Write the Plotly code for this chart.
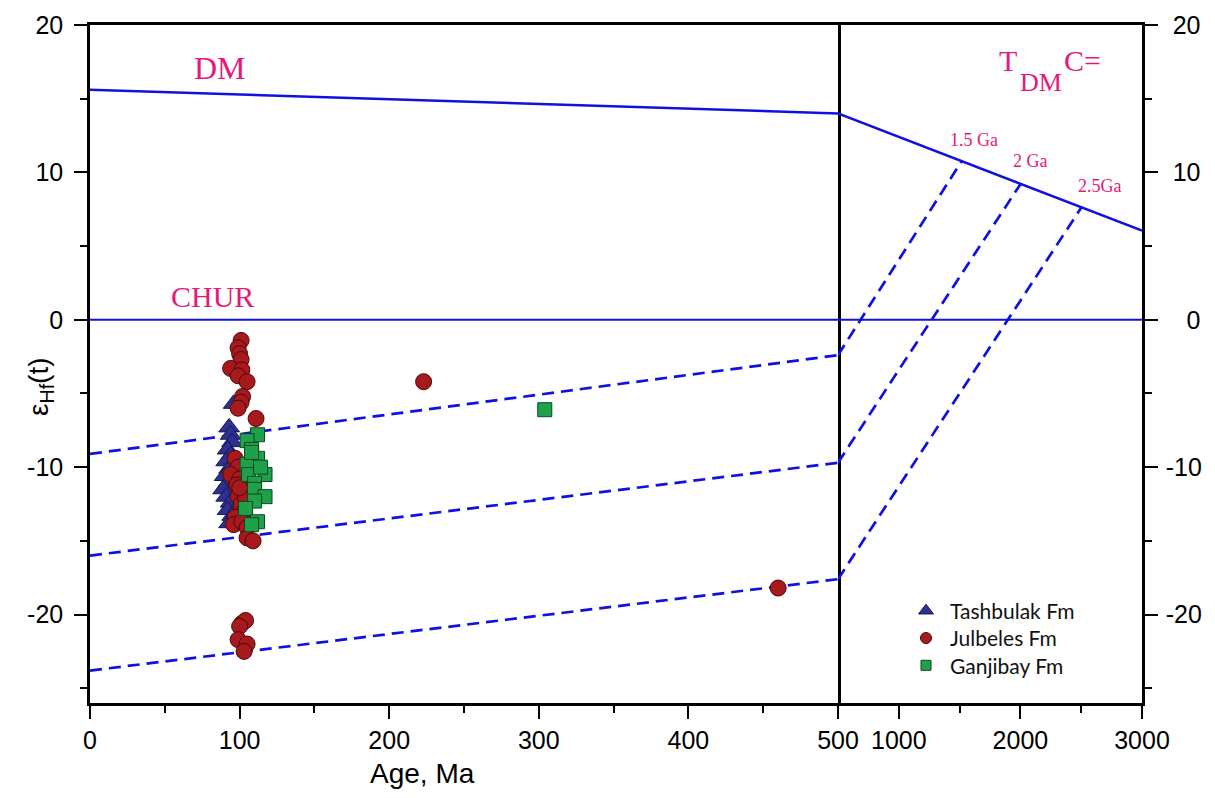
import plotly.graph_objects as go

# ---------------- data ----------------
tash_age = [93, 94, 95, 92, 94, 91, 93, 90, 92, 89, 91, 94, 92, 95, 93, 96]
tash_ehf = [-7.3, -7.8, -8.3, -8.8, -9.2, -9.6, -10.1, -10.6, -11.1, -11.5, -12.0, -12.4, -12.9, -13.3, -13.8, -5.7]

julb_age = [101, 99, 100, 101, 94, 101.5, 99, 105, 102, 101, 99, 111,
            97, 99, 94, 100, 98, 102, 99, 101, 103, 97, 96, 101.5, 105, 105, 109, 104, 100,
            223, 460,
            101.5, 104, 100, 99, 105, 103]
julb_ehf = [-1.4, -1.9, -2.3, -2.7, -3.3, -3.4, -3.8, -4.2, -5.2, -5.6, -6.0, -6.7,
            -9.4, -10.0, -10.5, -10.8, -11.2, -11.6, -12.0, -12.5, -13.0, -13.4, -13.9, -13.7, -14.1, -14.8, -15.0, -12.1, -11.4,
            -4.2, -18.2,
            -20.6, -20.4, -20.8, -21.7, -22.0, -22.5]

ganj_age = [112, 105, 108, 112, 105, 117, 106, 110, 110, 117, 110, 104, 112, 108, 108, 114, 304]
ganj_ehf = [-7.8, -8.2, -8.8, -9.4, -9.8, -10.5, -10.5, -11.1, -11.5, -12.0, -12.3, -12.8, -13.7, -13.9, -9.0, -10.0, -6.1]

dm_left_x = [0, 500]
dm_left_y = [15.6, 14.0]
dm_right_x = [500, 3000]
dm_right_y = [14.0, 6.05]
chur_left_x = [0, 500]
chur_right_x = [500, 3000]
chur_y = [0, 0]

evo_left_x = [0, 500]
evo_left_y = [[-9.1, -2.4], [-16.0, -9.7], [-23.8, -17.6]]
evo_right_x = [[500, 1520], [500, 2000], [500, 2500]]
evo_right_y = [[-2.4, 10.8], [-9.7, 9.2], [-17.6, 7.6]]

x1_ticks = [0, 100, 200, 300, 400, 500]
x2_ticks = [1000, 2000, 3000]
y_ticks = [-20, -10, 0, 10, 20]
y_ticktext = ["-20", "-10", "0", "10", "20"]
y_ticktext_right = ["-20", "-10", "\u00a0\u00a0\u00a00", "\u00a010", "\u00a020"]

series_names = ["Tashbulak Fm", "Julbeles Fm", "Ganjibay Fm"]

# ---------------- layout constants ----------------
# the page body has an 8px margin, so the figure is a bit smaller than the window
W, H = 1207, 790
L, R, T, B = 82, 73, 17, 95
pw, ph = W - L - R, H - T - B
OFF = 8
PX0, PX1, PY0, PY1 = L + OFF, W - R + OFF, T + OFF, H - B + OFF   # plot area in screen px
BREAK_PX = 838
split = (BREAK_PX - PX0) / pw
YMIN, YMAX = -26, 20


def px_to_x2(px):
    return 500 + (px - BREAK_PX) / (PX1 - BREAK_PX) * 2500


def py_to_y(py):
    return YMAX - (py - PY0) / ph * (YMAX - YMIN)


def paper_x(px):
    return (px - PX0) / pw


def paper_y(py):
    return (PY1 - py) / ph


BLUE = "#1010E0"
PINK = "#E5197A"
DASH = "12px,7px"
fig = go.Figure()

fig.add_trace(go.Scatter(x=dm_left_x, y=dm_left_y, mode="lines",
                         line=dict(color=BLUE, width=2.5), showlegend=False, hoverinfo="skip"))
fig.add_trace(go.Scatter(x=dm_right_x, y=dm_right_y, mode="lines", xaxis="x2", yaxis="y2",
                         line=dict(color=BLUE, width=2.5), showlegend=False, hoverinfo="skip"))
fig.add_trace(go.Scatter(x=chur_left_x, y=chur_y, mode="lines",
                         line=dict(color=BLUE, width=2), showlegend=False, hoverinfo="skip"))
fig.add_trace(go.Scatter(x=chur_right_x, y=chur_y, mode="lines", xaxis="x2", yaxis="y2",
                         line=dict(color=BLUE, width=2), showlegend=False, hoverinfo="skip"))
for ly in evo_left_y:
    fig.add_trace(go.Scatter(x=evo_left_x, y=ly, mode="lines",
                             line=dict(color=BLUE, width=2.7, dash=DASH),
                             showlegend=False, hoverinfo="skip"))
for rx, ry in zip(evo_right_x, evo_right_y):
    fig.add_trace(go.Scatter(x=rx, y=ry, mode="lines", xaxis="x2", yaxis="y2",
                             line=dict(color=BLUE, width=2.7, dash=DASH),
                             showlegend=False, hoverinfo="skip"))

tri = dict(symbol="triangle-up", size=18, color="#2E3192", line=dict(color="#15174F", width=1))
cir = dict(symbol="circle", size=16, color="#A8191E", line=dict(color="#4A0808", width=1))
sq = dict(symbol="square", size=14, color="#1FA04A", line=dict(color="#0A4A1E", width=1))

fig.add_trace(go.Scatter(x=tash_age, y=tash_ehf, mode="markers", marker=tri, name=series_names[0], showlegend=False))
fig.add_trace(go.Scatter(x=julb_age, y=julb_ehf, mode="markers", marker=cir, name=series_names[1], showlegend=False))
fig.add_trace(go.Scatter(x=ganj_age, y=ganj_ehf, mode="markers", marker=sq, name=series_names[2], showlegend=False))

# custom legend (tight row spacing like the reference): one multi-line text block
LEG_FONT = 21
leg_center_py = 638
leg_step = LEG_FONT * 1.3
leg_rows_py = [leg_center_py - leg_step, leg_center_py, leg_center_py + leg_step]
leg_sizes = [13, 11, 10]
for m, py, s in zip([tri, cir, sq], leg_rows_py, leg_sizes):
    mm = dict(m)
    mm["size"] = s
    fig.add_trace(go.Scatter(x=[px_to_x2(926)], y=[py_to_y(py)], mode="markers", marker=mm,
                             xaxis="x2", yaxis="y2", showlegend=False, hoverinfo="skip", cliponaxis=False))

TICKFONT = dict(family="Liberation Sans, Arial", size=25, color="black")
axis_common = dict(showline=True, linecolor="black", linewidth=2.5,
                   ticks="outside", tickcolor="black", tickwidth=2, ticklen=13,
                   showgrid=False, zeroline=False, automargin=False, tickfont=TICKFONT)
minor_common = dict(ticks="outside", ticklen=7, tickwidth=2, tickcolor="black")

fig.update_layout(
    width=W, height=H,
    margin=dict(l=L, r=R, t=T, b=B),
    plot_bgcolor="white", paper_bgcolor="white",
    showlegend=False,
    xaxis=dict(domain=[0, split], range=[0, 500], tickvals=x1_ticks, mirror=True,
               minor=dict(dtick=50, tick0=0, **minor_common), anchor="y", **axis_common),
    xaxis2=dict(domain=[split, 1], range=[500, 3000], tickvals=x2_ticks, mirror=True,
                minor=dict(dtick=500, tick0=0, **minor_common), anchor="y2", **axis_common),
    yaxis=dict(range=[YMIN, YMAX], tickvals=y_ticks, ticktext=y_ticktext, anchor="x", mirror=True,
               ticklabelstandoff=6,
               minor=dict(dtick=5, tick0=0, **minor_common), **axis_common),
    yaxis2=dict(range=[YMIN, YMAX], tickvals=y_ticks, ticktext=y_ticktext_right, anchor="x2",
                side="right", mirror=False, ticklabelstandoff=3,
                minor=dict(dtick=5, tick0=0, **minor_common), **axis_common),
)

serif = "Liberation Serif, Times New Roman"
ann = [
    dict(x=87, y=17.1, xref="x", yref="y", text="DM", font=dict(family=serif, size=32, color=PINK)),
    dict(x=82, y=1.6, xref="x", yref="y", text="CHUR", font=dict(family=serif, size=30, color=PINK)),
    dict(x=1898, y=17.6, xref="x2", yref="y2", text="T", font=dict(family=serif, size=30, color=PINK)),
    dict(x=2169, y=16.1, xref="x2", yref="y2", text="DM", font=dict(family=serif, size=26, color=PINK)),
    dict(x=2507, y=17.6, xref="x2", yref="y2", text="C=", font=dict(family=serif, size=30, color=PINK)),
    dict(x=1618, y=12.2, xref="x2", yref="y2", text="1.5 Ga", font=dict(family=serif, size=18, color=PINK)),
    dict(x=2079, y=10.75, xref="x2", yref="y2", text="2 Ga", font=dict(family=serif, size=18, color=PINK)),
    dict(x=2655, y=9.05, xref="x2", yref="y2", text="2.5Ga", font=dict(family=serif, size=18, color=PINK)),
    dict(x=paper_x(422), y=paper_y(773), xref="paper", yref="paper",
         text="Age, Ma", font=dict(family="Liberation Sans, Arial", size=28, color="black")),
    dict(x=paper_x(40), y=paper_y(387), xref="paper", yref="paper", textangle=-90,
         text="ε<sub>Hf</sub>(t)", font=dict(family="Liberation Sans, Arial", size=28, color="black")),
    dict(x=px_to_x2(948), y=py_to_y(leg_center_py), xref="x2", yref="y2", xanchor="left", align="left",
         text="<br>".join(series_names),
         font=dict(family="Lato, Open Sans", size=LEG_FONT, color="#111111")),
]
for a in ann:
    a.setdefault("showarrow", False)
    a.setdefault("xanchor", "center")
    a.setdefault("yanchor", "middle")
fig.update_layout(annotations=ann)

fig.write_html("out.html")
